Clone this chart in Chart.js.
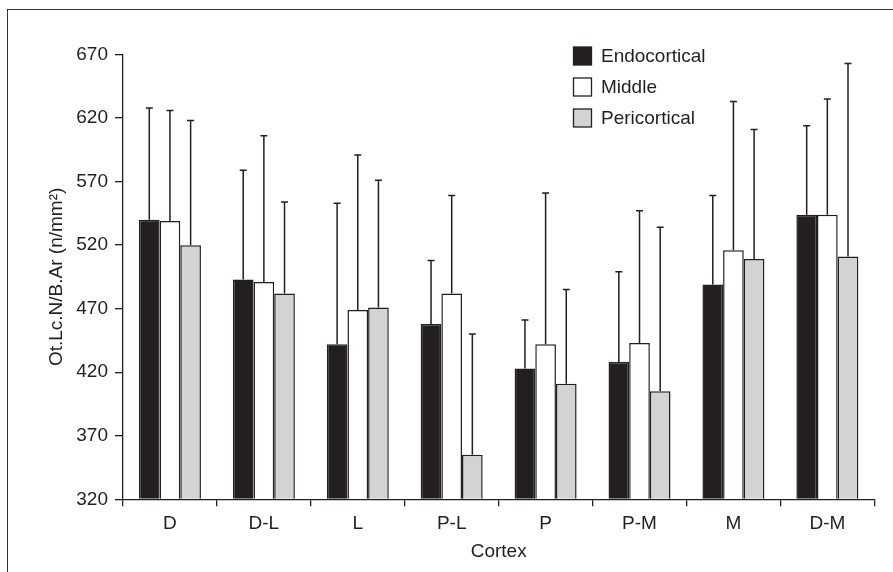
<!DOCTYPE html>
<html>
<head>
<meta charset="utf-8">
<script src="https://cdn.jsdelivr.net/npm/chart.js@4"></script>
<style>
    html, body { margin: 0; padding: 0; background: #fff; }
    #wrap { position: relative; width: 893px; height: 572px; overflow: hidden; }
    #frame { position: absolute; left: 7px; top: 9px; width: 900px; height: 600px;
             border-left: 1.5px solid #333; border-top: 1.5px solid #333; pointer-events: none; }
    canvas { position: absolute; left: 0; top: 0; }
</style>
</head>
<body>
<div id="wrap">
    <canvas id="myChart" width="893" height="572"></canvas>
    <div id="frame"></div>
</div>
<script>
// categories along the cortex
const categories = ['D', 'D-L', 'L', 'P-L', 'P', 'P-M', 'M', 'D-M'];

// bar heights (means)
const endocortical = [540, 493, 442, 458, 423, 428, 489, 544];
const middle = [539, 491, 469, 482, 442, 443, 516, 544];
const pericortical = [520, 482, 471, 355, 411, 405, 509, 511];

// top of each error bar (mean + SD)
const endocorticalUpper = [628, 579, 553, 508, 461, 499, 559, 614];
const middleUpper = [626, 606, 591, 559, 561, 547, 633, 635];
const pericorticalUpper = [618, 554, 571, 450, 485, 534, 611, 663];

// y axis ticks
const yTicks = [320, 370, 420, 470, 520, 570, 620, 670];

const ink = '#231f20';
const fontFamily = '"Liberation Sans", Arial, Helvetica, sans-serif';
const fontSize = 19;

// draws the one-sided error bars from the bar top up to the upper value
const errorBars = {
    id: 'errorBars',
    afterDatasetsDraw(chart) {
        const ctx = chart.ctx;
        const yScale = chart.scales.y;
        ctx.save();
        ctx.strokeStyle = ink;
        ctx.lineWidth = 1.5;
        chart.data.datasets.forEach((ds, i) => {
            const meta = chart.getDatasetMeta(i);
            meta.data.forEach((bar, j) => {
                const top = yScale.getPixelForValue(ds.upper[j]);
                ctx.beginPath();
                ctx.moveTo(bar.x, bar.y);
                ctx.lineTo(bar.x, top);
                ctx.moveTo(bar.x - 3.5, top);
                ctx.lineTo(bar.x + 3.5, top);
                ctx.stroke();
            });
        });
        ctx.restore();
    }
};

// legend in the top right corner of the plot
const boxLegend = {
    id: 'boxLegend',
    afterDraw(chart) {
        const ctx = chart.ctx;
        const rows = [56, 87, 118];
        ctx.save();
        ctx.font = fontSize + 'px ' + fontFamily;
        ctx.textBaseline = 'middle';
        chart.data.datasets.forEach((ds, i) => {
            const y = rows[i];
            ctx.fillStyle = ds.backgroundColor;
            ctx.fillRect(573.5, y - 9, 18, 18);
            ctx.strokeStyle = ink;
            ctx.lineWidth = 1.3;
            ctx.strokeRect(573.5, y - 9, 18, 18);
            ctx.fillStyle = ink;
            ctx.fillText(ds.label, 601, y + 1);
        });
        ctx.restore();
    }
};

const ctx = document.getElementById('myChart').getContext('2d');
const myChart = new Chart(ctx, {
    type: 'bar',
    data: {
        labels: categories,
        datasets: [
            {
                label: 'Endocortical',
                data: endocortical,
                upper: endocorticalUpper,
                backgroundColor: ink,
                borderColor: ink,
                borderWidth: 1.5
            },
            {
                label: 'Middle',
                data: middle,
                upper: middleUpper,
                backgroundColor: '#ffffff',
                borderColor: ink,
                borderWidth: 1.5
            },
            {
                label: 'Pericortical',
                data: pericortical,
                upper: pericorticalUpper,
                backgroundColor: '#d1d3d4',
                borderColor: ink,
                borderWidth: 1.5
            }
        ]
    },
    options: {
        responsive: false,
        animation: false,
        base: 320,
        barPercentage: 1,
        categoryPercentage: 0.66,
        layout: { padding: { left: 0, right: 18.7, top: 54.5, bottom: 0 } },
        plugins: {
            legend: { display: false },
            tooltip: { enabled: false }
        },
        scales: {
            x: {
                afterFit: (scale) => { scale.height = 72.7; },
                grid: {
                    offset: true,
                    drawOnChartArea: false,
                    tickLength: 7,
                    color: ink,
                    lineWidth: 1.3
                },
                border: { color: ink, width: 1.3 },
                ticks: {
                    color: ink,
                    padding: 6,
                    font: { family: fontFamily, size: fontSize }
                },
                title: {
                    display: true,
                    text: 'Cortex',
                    color: ink,
                    padding: { top: 0, bottom: 9 },
                    font: { family: fontFamily, size: fontSize }
                }
            },
            y: {
                min: yTicks[0],
                max: yTicks[yTicks.length - 1],
                afterFit: (scale) => { scale.width = 123; },
                afterBuildTicks: (scale) => { scale.ticks = yTicks.map(v => ({ value: v })); },
                grid: {
                    drawOnChartArea: false,
                    tickLength: 8,
                    color: ink,
                    lineWidth: 1.3
                },
                border: { color: ink, width: 1.3 },
                ticks: {
                    color: ink,
                    padding: 7,
                    font: { family: fontFamily, size: fontSize }
                },
                title: {
                    display: true,
                    text: 'Ot.Lc.N/B.Ar (n/mm²)',
                    color: ink,
                    padding: { top: 45, bottom: 0 },
                    font: { family: fontFamily, size: fontSize }
                }
            }
        }
    },
    plugins: [errorBars, boxLegend]
});
</script>
</body>
</html>
